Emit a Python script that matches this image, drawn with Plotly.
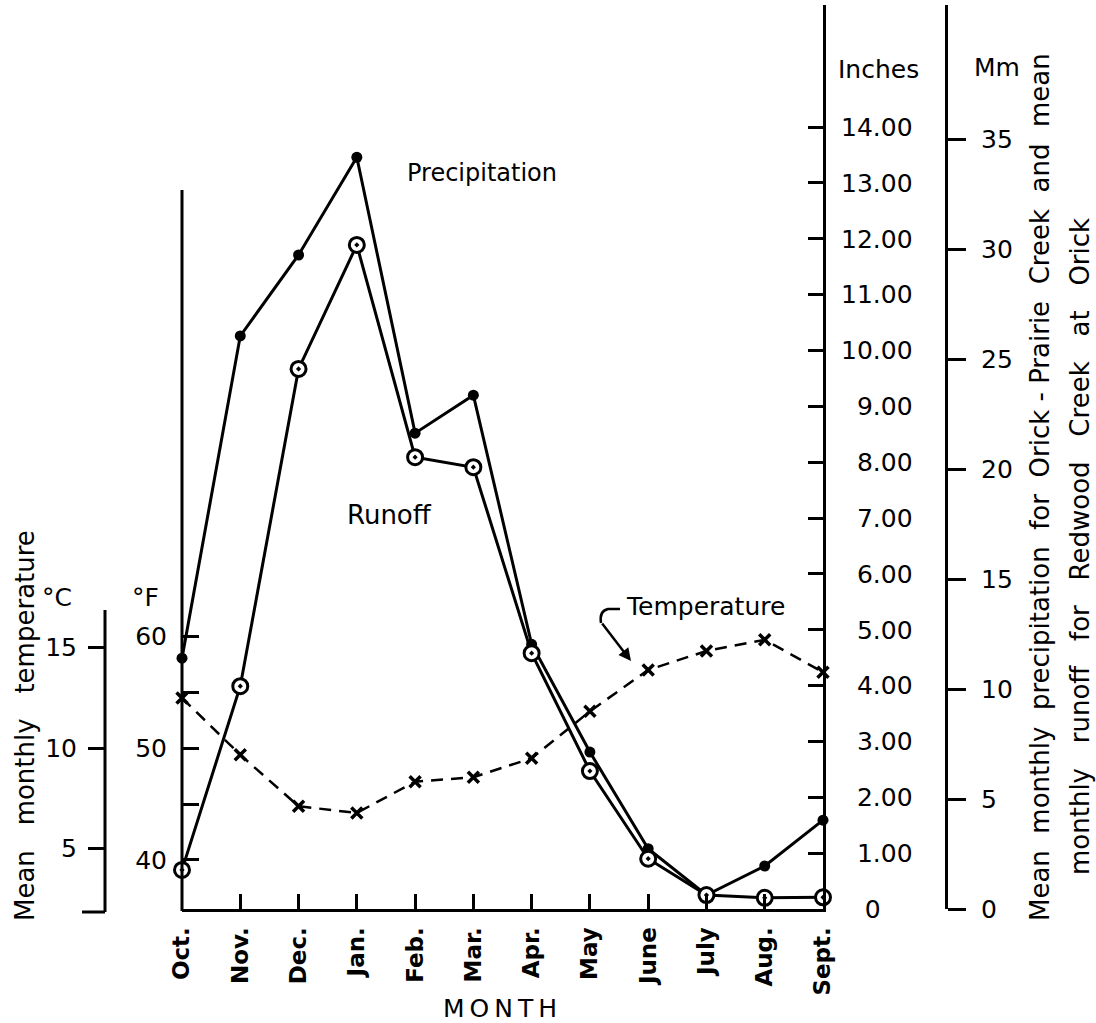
import plotly.graph_objects as go

# ---------------- data ----------------
months = ["Oct.", "Nov.", "Dec.", "Jan.", "Feb.", "Mar.", "Apr.", "May", "June", "July", "Aug.", "Sept."]
precip_in = [4.49, 10.26, 11.71, 13.46, 8.52, 9.20, 4.74, 2.81, 1.08, 0.25, 0.77, 1.59]
runoff_in = [0.70, 3.99, 9.67, 11.89, 8.09, 7.91, 4.58, 2.47, 0.90, 0.25, 0.20, 0.21]
temp_f = [54.5, 49.4, 44.8, 44.2, 47.0, 47.4, 49.1, 53.3, 57.0, 58.7, 59.7, 56.8]

inch_ticks = list(range(0, 15))
inch_labels = ["\u2007 0"] + [("\u2007" if v < 10 else "") + f"{v}.00" for v in range(1, 15)]
mm_ticks = [0, 5, 10, 15, 20, 25, 30, 35]
f_ticks = [40, 45, 50, 55, 60]
f_labels = ["40", "", "50", "", "60"]
c_ticks = [5, 10, 15]

# ---------------- geometry helpers ----------------
W, H = 1096, 1023
X0, X1 = 182, 823          # plot left / right (px)
YT, YB = 5, 909            # plot top / bottom (px)
PX_PER_IN = 55.85


def px(x):
    return x / W


def py(y):
    return 1 - y / H


in_max = (YB - YT) / PX_PER_IN
F_at_zero = 35.6            # deg F at 0 inches
F_per_in = 5.0
f_range = [F_at_zero, F_at_zero + F_per_in * in_max]
c_range = [(f - 32) * 5 / 9 for f in f_range]

FONT = "DejaVu Sans"
xi = list(range(len(months)))

fig = go.Figure()
fig.add_trace(go.Scatter(
    x=xi, y=precip_in, mode="lines+markers", yaxis="y", cliponaxis=False,
    line=dict(color="black", width=3),
    marker=dict(size=11, color="black"), showlegend=False))
fig.add_trace(go.Scatter(
    x=xi, y=runoff_in, mode="lines+markers", yaxis="y", cliponaxis=False,
    line=dict(color="black", width=3),
    marker=dict(symbol="circle-dot", size=15, color="white",
                line=dict(color="black", width=3)), showlegend=False))
fig.add_trace(go.Scatter(
    x=xi, y=temp_f, mode="lines+markers", yaxis="y3", cliponaxis=False,
    line=dict(color="black", width=2.5, dash="12px,8px"),
    marker=dict(symbol="x-thin", size=11, line=dict(color="black", width=3.5)),
    showlegend=False))
# invisible companions so the metric / Celsius axes are drawn
fig.add_trace(go.Scatter(
    x=xi, y=[v * 2.54 for v in precip_in], mode="lines", yaxis="y2",
    opacity=0, hoverinfo="skip", showlegend=False))
fig.add_trace(go.Scatter(
    x=xi, y=[(f - 32) * 5 / 9 for f in temp_f], mode="lines", yaxis="y4",
    opacity=0, hoverinfo="skip", showlegend=False))

ydom = [py(YB), py(YT)]

fig.update_layout(
    width=W, height=H,
    margin=dict(l=0, r=0, t=0, b=0),
    paper_bgcolor="white", plot_bgcolor="white",
    font=dict(family=FONT, size=25, color="black"),
    xaxis=dict(
        domain=[px(X0), px(X1)], range=[0, 11],
        tickmode="array", tickvals=xi, ticktext=months, tickangle=-90,
        ticks="inside", ticklen=15, tickwidth=2.5, tickcolor="black",
        tickfont=dict(family=FONT, size=23, weight="bold"),
        ticklabelstandoff=6,
        showline=True, linewidth=3, linecolor="black",
        showgrid=False, zeroline=False, automargin=False),
    yaxis=dict(
        domain=ydom, range=[0, in_max], side="right", anchor="x",
        tickmode="array", tickvals=inch_ticks, ticktext=inch_labels,
        ticks="inside", ticklen=15, tickwidth=2.5, tickcolor="black",
        tickfont=dict(size=25), ticklabelstandoff=10,
        showline=True, linewidth=3, linecolor="black",
        showgrid=False, zeroline=False, automargin=False),
    yaxis2=dict(
        overlaying="y", range=[0, in_max * 2.54], side="right",
        anchor="free", position=px(946),
        tickmode="array", tickvals=mm_ticks,
        ticks="outside", ticklen=18, tickwidth=2.5, tickcolor="black",
        tickfont=dict(size=25), ticklabelstandoff=10,
        showline=True, linewidth=3, linecolor="black",
        showgrid=False, zeroline=False, automargin=False),
    yaxis3=dict(
        overlaying="y", range=f_range, side="left", anchor="x",
        tickmode="array", tickvals=f_ticks, ticktext=f_labels,
        ticks="inside", ticklen=17, tickwidth=2.5, tickcolor="black",
        tickfont=dict(size=25), ticklabelstandoff=14,
        showline=False, showgrid=False, zeroline=False, automargin=False),
    yaxis4=dict(
        overlaying="y", range=c_range, side="left",
        anchor="free", position=px(105),
        tickmode="array", tickvals=c_ticks,
        ticks="outside", ticklen=17, tickwidth=2.5, tickcolor="black",
        tickfont=dict(size=25), ticklabelstandoff=6,
        showline=False, showgrid=False, zeroline=False, automargin=False),
)

# axis lines that do not span the whole plot height
line_style = dict(color="black", width=3)
fig.add_shape(type="line", xref="paper", yref="paper",
              x0=px(X0), x1=px(X0), y0=py(YB + 2), y1=py(190), line=line_style)
fig.add_shape(type="line", xref="paper", yref="paper",
              x0=px(105), x1=px(105), y0=py(912), y1=py(610), line=line_style)
fig.add_shape(type="line", xref="paper", yref="paper",
              x0=px(82), x1=px(105), y0=py(912), y1=py(912), line=line_style)

# temperature label hook + arrow
fig.add_shape(type="path", xref="paper", yref="paper",
              path=f"M {px(620)},{py(609)} L {px(608)},{py(609)} "
                   f"Q {px(599)},{py(611)} {px(601)},{py(623)}",
              line=dict(color="black", width=2.5))
fig.add_annotation(xref="paper", yref="paper",
                   x=px(631), y=py(661), ax=-30, ay=-39, text="",
                   showarrow=True, arrowhead=2, arrowsize=1, arrowwidth=2.5,
                   arrowcolor="black", standoff=0)

NB = "\u00a0"


def label(text, x, y, size=25, angle=0, xanchor="center"):
    fig.add_annotation(xref="paper", yref="paper", x=px(x), y=py(y),
                       text=text, showarrow=False, textangle=angle,
                       xanchor=xanchor, yanchor="middle",
                       font=dict(family=FONT, size=size, color="black"))


label("Precipitation", 482, 173, 24)
label("Runoff", 389, 515, 26)
label("Temperature", 705, 606, 25)
label("Inches", 878, 70, 25)
label("Mm", 997, 68, 25)
label("°C", 57, 597, 25)
label("°F", 145, 597, 25)
label("M\u2009O\u2009N\u2009T\u2009H", 500, 1008, 25)
label(f"Mean{NB}{NB}{NB}monthly{NB}{NB}{NB}temperature", 25, 726, 26, angle=-90)
label(f"Mean{NB}{NB}monthly{NB}{NB}precipitation{NB}{NB}for{NB}{NB}Orick{NB}-{NB}Prairie"
      f"{NB}{NB}Creek{NB}{NB}and{NB}{NB}mean", 1040, 487, 26, angle=-90)
label(f"monthly{NB}{NB}{NB}runoff{NB}{NB}{NB}for{NB}{NB}{NB}Redwood{NB}{NB}{NB}Creek"
      f"{NB}{NB}{NB}at{NB}{NB}{NB}Orick", 1080, 547, 26, angle=-90)

fig.write_html("out.html")
